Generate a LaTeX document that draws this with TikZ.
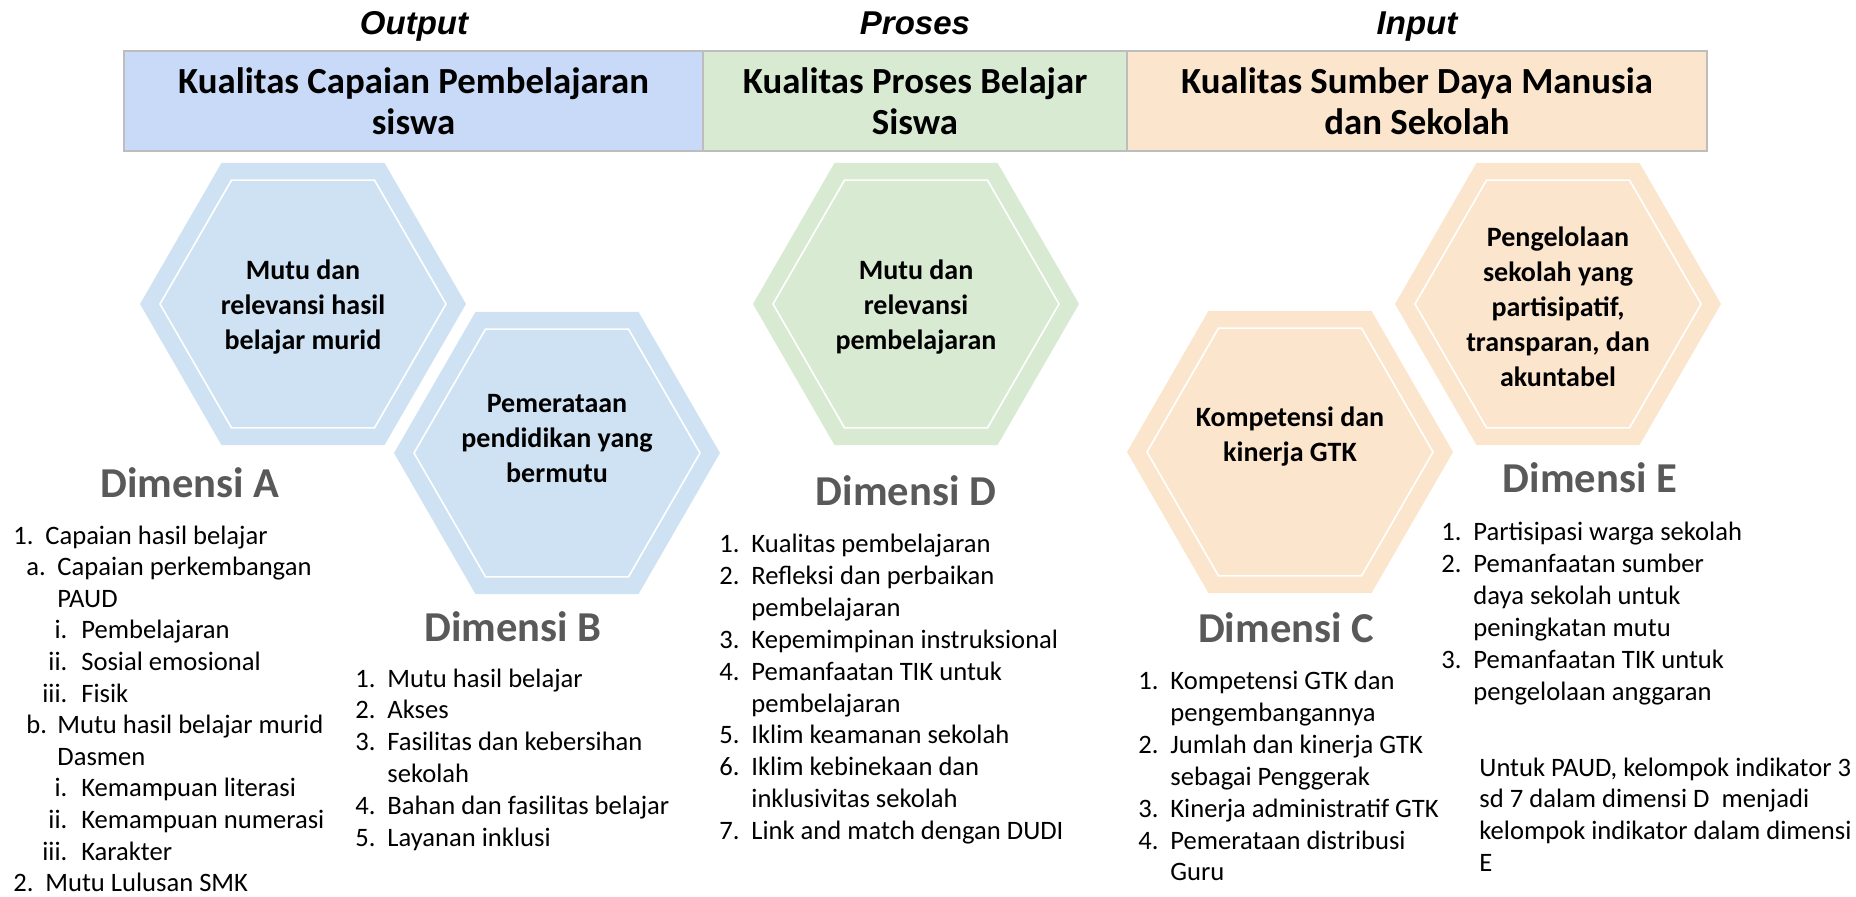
\documentclass[tikz,border=0pt]{standalone}
\usepackage{fontspec}
\setmainfont{Carlito}
\newfontfamily\headfont{Liberation Sans}
\usetikzlibrary{positioning}

\definecolor{hdrblue}{HTML}{C9DAF8}
\definecolor{hexblue}{HTML}{CFE2F3}
\definecolor{softgreen}{HTML}{D9EAD3}
\definecolor{softorange}{HTML}{FCE5CD}
\definecolor{rulegray}{HTML}{BDBDBD}
\definecolor{dimgray}{HTML}{595959}

% list line helpers: label position, text position, label, text
\newcommand\lvl[4]{\hbox{\hspace{#1}\makebox[\dimexpr#2-#1\relax][l]{#3}#4}}
\newcommand\rom[2]{\hbox{\makebox[33.5pt][r]{#1}\hspace{7pt}#2}}
\newcommand\cont[2]{\hbox{\hspace{#1}#2}}
\newcommand\num[2]{\lvl{0pt}{16pt}{#1}{#2}}
\newcommand\more[1]{\cont{16pt}{#1}}

% flat-topped hexagon with a white inner outline
\newcommand\hexcell[3]{%
  \fill[#3] (#1,#2) +(0:163) -- +(60:163) -- +(120:163) -- +(180:163)
     -- +(240:163) -- +(300:163) -- cycle;
  \draw[white, line width=0.8pt] (#1,#2) +(0:143) -- +(60:143) -- +(120:143)
     -- +(180:143) -- +(240:143) -- +(300:143) -- cycle;}

\tikzset{
  hdrbox/.style={draw=rulegray, line width=0.7pt, minimum height=50pt,
    inner sep=0pt, align=center, font=\fontsize{18.4}{20.3}\selectfont\bfseries},
  ttl/.style={anchor=base, inner sep=0pt, font=\headfont\bfseries\itshape\fontsize{16.5}{19}\selectfont},
  hextext/.style={align=center, inner sep=0pt, font=\fontsize{14}{17.5}\selectfont\bfseries},
  dimlabel/.style={inner sep=0pt, text=dimgray, font=\fontsize{21.3}{25}\selectfont\bfseries},
  listtxt/.style={anchor=base west, inner sep=0pt, font=\fontsize{13.3}{15.95}\selectfont}
}

\begin{document}
\begin{tikzpicture}[x=0.5pt, y=-0.5pt]
\useasboundingbox (0,0) rectangle (1856,897);

% column titles
\node[ttl] (tout) at (414,35) {Output};
\node[ttl] (tpro) at (915,35) {Proses};
\node[ttl] (tin)  at (1417,35) {Input};

% header band
\node[hdrbox, fill=hdrblue, minimum width=289.5pt] (hdrA) at (413.5,101)
  {Kualitas Capaian Pembelajaran\\siswa};
\node[hdrbox, fill=softgreen, minimum width=212pt] (hdrB) at (915,101)
  {Kualitas Proses Belajar\\Siswa};
\node[hdrbox, fill=softorange, minimum width=290pt] (hdrC) at (1417,101)
  {Kualitas Sumber Daya Manusia\\dan Sekolah};

% hexagons
\hexcell{303}{304}{hexblue}
\hexcell{557}{453}{hexblue}
\hexcell{916}{304}{softgreen}
\hexcell{1290}{452}{softorange}
\hexcell{1558}{304}{softorange}

\node[hextext] (hexA) at (303,307.5) {Mutu dan\\relevansi hasil\\belajar murid};
\node[hextext] (hexB) at (557,439) {Pemerataan\\pendidikan yang\\bermutu};
\node[hextext] (hexD) at (916,307.5) {Mutu dan\\relevansi\\pembelajaran};
\node[hextext] (hexC) at (1290,437) {Kompetensi dan\\kinerja GTK};
\node[hextext] (hexE) at (1558,307) {Pengelolaan\\sekolah yang\\partisipatif,\\transparan, dan\\akuntabel};

% dimension headings
\node[dimlabel] (dimA) at (190,483) {Dimensi A};
\node[dimlabel] (dimB) at (513,627) {Dimensi B};
\node[dimlabel] (dimD) at (906,491) {Dimensi D};
\node[dimlabel] (dimC) at (1286,628) {Dimensi C};
\node[dimlabel] (dimE) at (1590,478) {Dimensi E};

% indicator lists
\node[listtxt, font=\fontsize{13.3}{15.8}\selectfont] (listA) at (0,544) {\vtop{%
  \lvl{6.5pt}{22.5pt}{1.}{Capaian hasil belajar}
  \lvl{13pt}{28.5pt}{a.}{Capaian perkembangan}
  \cont{28.5pt}{PAUD}
  \rom{i.}{Pembelajaran}
  \rom{ii.}{Sosial emosional}
  \rom{iii.}{Fisik}
  \lvl{13pt}{28.5pt}{b.}{Mutu hasil belajar murid}
  \cont{28.5pt}{Dasmen}
  \rom{i.}{Kemampuan literasi}
  \rom{ii.}{Kemampuan numerasi}
  \rom{iii.}{Karakter}
  \lvl{6.5pt}{22.5pt}{2.}{Mutu Lulusan SMK}}};

\node[listtxt] (listB) at (355,687) {\vtop{%
  \num{1.}{Mutu hasil belajar}
  \num{2.}{Akses}
  \num{3.}{Fasilitas dan kebersihan}
  \more{sekolah}
  \num{4.}{Bahan dan fasilitas belajar}
  \num{5.}{Layanan inklusi}}};

\node[listtxt] (listD) at (719,552.5) {\vtop{%
  \num{1.}{Kualitas pembelajaran}
  \num{2.}{Refleksi dan perbaikan}
  \more{pembelajaran}
  \num{3.}{Kepemimpinan instruksional}
  \num{4.}{Pemanfaatan TIK untuk}
  \more{pembelajaran}
  \num{5.}{Iklim keamanan sekolah}
  \num{6.}{Iklim kebinekaan dan}
  \more{inklusivitas sekolah}
  \num{7.}{Link and match dengan DUDI}}};

\node[listtxt] (listC) at (1138,689.5) {\vtop{%
  \num{1.}{Kompetensi GTK dan}
  \more{pengembangannya}
  \num{2.}{Jumlah dan kinerja GTK}
  \more{sebagai Penggerak}
  \num{3.}{Kinerja administratif GTK}
  \num{4.}{Pemerataan distribusi}
  \more{Guru}}};

\node[listtxt] (listE) at (1441,540.5) {\vtop{%
  \num{1.}{Partisipasi warga sekolah}
  \num{2.}{Pemanfaatan sumber}
  \more{daya sekolah untuk}
  \more{peningkatan mutu}
  \num{3.}{Pemanfaatan TIK untuk}
  \more{pengelolaan anggaran}}};

\node[listtxt] (note) at (1479,776) {\vtop{%
  \hbox{Untuk PAUD, kelompok indikator 3}
  \hbox{sd 7 dalam dimensi D\ \ menjadi}
  \hbox{kelompok indikator dalam dimensi}
  \hbox{E}}};
\end{tikzpicture}
\end{document}
